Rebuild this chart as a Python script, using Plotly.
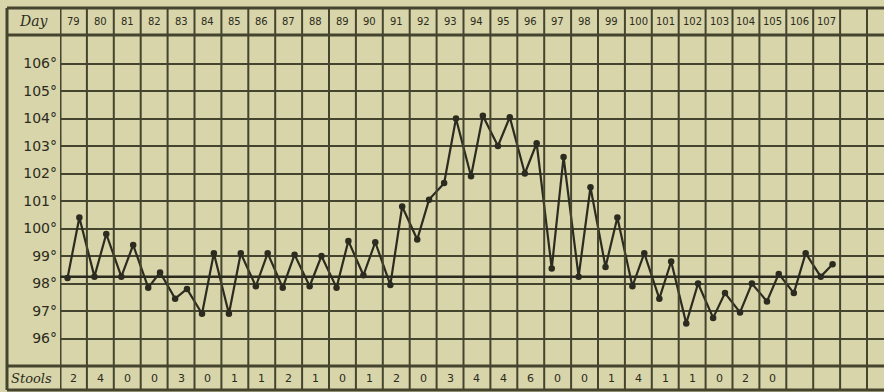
import plotly.graph_objects as go

# ---- data ----
days = list(range(79, 108))
am_temps = [98.2, 98.25, 98.25, 97.85, 97.45, 96.9, 96.9, 97.9, 97.85, 97.9,
            97.85, 98.3, 97.95, 99.6, 101.65, 101.9, 103.0, 102.0, 98.55, 98.25,
            98.6, 97.9, 97.45, 96.55, 96.75, 96.95, 97.35, 97.65, 98.25]
pm_temps = [100.4, 99.8, 99.4, 98.4, 97.8, 99.1, 99.1, 99.1, 99.05, 99.0,
            99.55, 99.5, 100.8, 101.05, 104.0, 104.1, 104.05, 103.1, 102.6, 101.5,
            100.4, 99.1, 98.8, 98.0, 97.65, 98.0, 98.35, 99.1, 98.7]
stools = ["2", "4", "0", "0", "3", "0", "1", "1", "2", "1", "0", "1", "2", "0",
          "3", "4", "4", "6", "0", "0", "1", "4", "1", "1", "0", "2", "0", "", ""]
temp_ticks = [96, 97, 98, 99, 100, 101, 102, 103, 104, 105, 106]
temp_tick_labels = [f"{t}°" for t in temp_ticks]
normal_temp = 98.25
extra_cols = 2

# ---- style ----
BG = "#D8D5AA"
INK = "#2c2b20"
GRID = "#45442f"
W, H = 884, 392
ML, MT, MB = 60, 35, 26
plot_w = W - ML
col_px = 26.9
deg_px = 27.5
x0 = days[0] - 0.5
x1 = x0 + plot_w / col_px
y0 = 95
y1 = y0 + (H - MT - MB) / deg_px

xs, ys = [], []
for d, a, p in zip(days, am_temps, pm_temps):
    xs += [d - 0.22, d + 0.22]
    ys += [a, p]

fig = go.Figure()
fig.add_trace(go.Scatter(
    x=xs, y=ys, mode="lines+markers",
    line=dict(color=INK, width=2.2),
    marker=dict(color=INK, size=6.5),
    showlegend=False, hoverinfo="skip"))

plot_h = H - MT - MB
top_paper = 1 + (MT - 8) / plot_h
bot_paper = -(390 - (H - MB)) / plot_h
left_paper = (7 - ML) / plot_w

shapes = []
# vertical column lines through header, chart and stools row
for i in range(len(days) + extra_cols + 1):
    xb = days[0] - 0.5 + i
    if xb > x1:
        break
    shapes.append(dict(type="line", xref="x", yref="paper", x0=xb, x1=xb,
                       y0=bot_paper, y1=top_paper,
                       line=dict(color=GRID, width=3 if i == 0 else 2)))
# outer frame lines
for yp, wdt in [(top_paper, 3), (1, 3), (0, 3), (bot_paper, 3)]:
    shapes.append(dict(type="line", xref="paper", yref="paper", x0=left_paper, x1=1.02,
                       y0=yp, y1=yp, line=dict(color=GRID, width=wdt)))
shapes.append(dict(type="line", xref="paper", yref="paper", x0=left_paper, x1=left_paper,
                   y0=bot_paper, y1=top_paper, line=dict(color=GRID, width=3)))
# normal temperature line
shapes.append(dict(type="line", xref="paper", yref="y", x0=0, x1=1.02,
                   y0=normal_temp, y1=normal_temp, line=dict(color=INK, width=2.5)))

hdr_y = (top_paper + 1) / 2
stl_y = bot_paper / 2
annotations = []
for d in days:
    annotations.append(dict(x=d, y=hdr_y, xref="x", yref="paper",
                            xanchor="center", yanchor="middle",
                            text=str(d), showarrow=False,
                            font=dict(size=10, color=INK, family="DejaVu Sans")))
for d, s in zip(days, stools):
    if s:
        annotations.append(dict(x=d, y=stl_y, xref="x", yref="paper",
                                xanchor="center", yanchor="middle",
                                text=s, showarrow=False,
                                font=dict(size=11, color=INK, family="DejaVu Sans")))
annotations.append(dict(x=left_paper / 2, y=hdr_y, xref="paper", yref="paper",
                        xanchor="center", yanchor="middle",
                        text="<i>Day</i>", showarrow=False,
                        font=dict(size=14, color=INK, family="DejaVu Serif")))
annotations.append(dict(x=left_paper + 0.002, y=stl_y, xref="paper", yref="paper",
                        xanchor="left", yanchor="middle",
                        text="<i>Stools</i>", showarrow=False,
                        font=dict(size=13, color=INK, family="DejaVu Serif")))

fig.update_layout(
    width=W, height=H,
    margin=dict(l=ML, r=0, t=MT, b=MB, pad=0),
    paper_bgcolor=BG, plot_bgcolor=BG,
    shapes=shapes, annotations=annotations,
    xaxis=dict(range=[x0, x1], showgrid=False, zeroline=False, showticklabels=False,
               showline=False, fixedrange=True),
    yaxis=dict(range=[y0, y1], tickvals=temp_ticks, ticktext=temp_tick_labels,
               showgrid=True, gridcolor=GRID, gridwidth=2, zeroline=False,
               showline=False, ticks="", ticklabelstandoff=2,
               tickfont=dict(size=14, color=INK, family="DejaVu Sans"),
               fixedrange=True),
)

fig.write_html("out.html", config={"displayModeBar": False},
               post_script="document.body.style.margin='0';"
                           "document.body.style.background='" + BG + "';")
